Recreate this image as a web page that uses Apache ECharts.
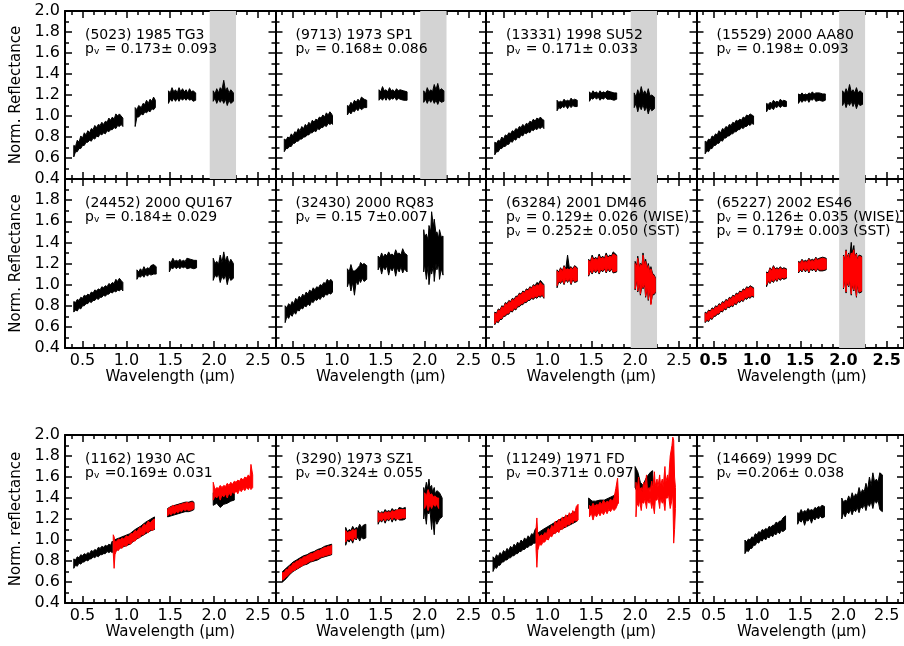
<!DOCTYPE html>
<html><head><meta charset="utf-8">
<script src="https://cdn.jsdelivr.net/npm/echarts@6/dist/echarts.min.js"></script>
<style>html,body{margin:0;padding:0;background:#fff}#c{width:904px;height:646px}</style>
</head><body><div id="c"></div>
<script>
// ---------------- DATA ----------------
const xRange = [0.3, 2.7];
const yRange = [0.4, 2.0];
const xMajorTicks = [0.5, 1.0, 1.5, 2.0, 2.5];
const xMinorTicks = [0.375, 0.625, 0.75, 0.875, 1.125, 1.25, 1.375, 1.625, 1.75, 1.875, 2.125, 2.25, 2.375, 2.625];
const grayBand = [1.95, 2.25];
const xTitle = 'Wavelength (\u00b5m)';
const yTitles = ['Norm. Reflectance', 'Norm. Reflectance', 'Norm. reflectance'];

const panelNames = ['(5023) 1985 TG3', '(9713) 1973 SP1', '(13331) 1998 SU52', '(15529) 2000 AA80',
  '(24452) 2000 QU167', '(32430) 2000 RQ83', '(63284) 2001 DM46', '(65227) 2002 ES46',
  '(1162) 1930 AC', '(3290) 1973 SZ1', '(11249) 1971 FD', '(14669) 1999 DC'];
const panelAlbedos = [
  ['p{v|v} = 0.173\u00b1 0.093'], ['p{v|v} = 0.168\u00b1 0.086'], ['p{v|v} = 0.171\u00b1 0.033'], ['p{v|v} = 0.198\u00b1 0.093'],
  ['p{v|v} = 0.184\u00b1 0.029'], ['p{v|v} = 0.15 7\u00b10.007'],
  ['p{v|v} = 0.129\u00b1 0.026 (WISE)', 'p{v|v} = 0.252\u00b1 0.050 (SST)'],
  ['p{v|v} = 0.126\u00b1 0.035 (WISE)', 'p{v|v} = 0.179\u00b1 0.003 (SST)'],
  ['p{v|v} =0.169\u00b1 0.031'], ['p{v|v} =0.324\u00b1 0.055'], ['p{v|v} =0.371\u00b1 0.097'], ['p{v|v} =0.206\u00b1 0.038']];
const bandPanels = [0, 1, 2, 3, 6, 7];

// spectra: segments of [wavelength, low, high]
const black5023 = [
  [[0.40,0.61,0.72],[0.42,0.66,0.71],[0.44,0.66,0.77],[0.46,0.69,0.75],[0.48,0.69,0.81],[0.50,0.72,0.79],[0.52,0.72,0.84],[0.54,0.75,0.82],[0.56,0.75,0.86],[0.58,0.77,0.84],[0.60,0.76,0.88],[0.62,0.79,0.87],[0.64,0.78,0.91],[0.66,0.81,0.89],[0.68,0.80,0.92],[0.70,0.83,0.91],[0.72,0.82,0.94],[0.74,0.84,0.92],[0.76,0.83,0.95],[0.78,0.86,0.94],[0.80,0.85,0.98],[0.82,0.87,0.96],[0.84,0.87,0.99],[0.86,0.89,0.97],[0.88,0.88,1.02],[0.90,0.91,1.00],[0.92,0.90,1.02],[0.94,0.92,1.00],[0.96,0.90,0.98]],
  [[1.10,0.90,1.08],[1.12,0.99,1.06],[1.14,0.99,1.10],[1.17,1.02,1.08],[1.19,1.01,1.12],[1.21,1.04,1.11],[1.23,1.03,1.15],[1.25,1.05,1.12],[1.27,1.04,1.16],[1.29,1.07,1.14],[1.31,1.06,1.18],[1.33,1.08,1.15]],
  [[1.48,1.12,1.24],[1.50,1.16,1.22],[1.52,1.14,1.27],[1.54,1.17,1.23],[1.56,1.14,1.25],[1.58,1.17,1.22],[1.60,1.14,1.27],[1.62,1.17,1.23],[1.64,1.15,1.26],[1.66,1.17,1.23],[1.68,1.15,1.25],[1.70,1.17,1.22],[1.72,1.15,1.26],[1.74,1.16,1.23],[1.76,1.14,1.24],[1.79,1.15,1.22]],
  [[1.99,1.14,1.24],[2.01,1.17,1.21],[2.03,1.12,1.26],[2.05,1.16,1.22],[2.07,1.13,1.27],[2.09,1.16,1.25],[2.11,1.12,1.34],[2.13,1.16,1.24],[2.15,1.10,1.27],[2.17,1.15,1.22],[2.19,1.12,1.25],[2.22,1.14,1.22]]];
const black9713 = [
  [[0.40,0.66,0.78],[0.42,0.69,0.77],[0.44,0.69,0.80],[0.46,0.71,0.79],[0.48,0.71,0.83],[0.50,0.74,0.81],[0.52,0.74,0.85],[0.54,0.76,0.84],[0.56,0.76,0.88],[0.58,0.78,0.86],[0.60,0.78,0.90],[0.62,0.80,0.88],[0.64,0.80,0.92],[0.66,0.82,0.90],[0.68,0.82,0.94],[0.70,0.84,0.92],[0.72,0.84,0.96],[0.74,0.86,0.94],[0.76,0.85,0.97],[0.78,0.88,0.96],[0.80,0.87,0.99],[0.82,0.89,0.98],[0.84,0.89,1.01],[0.86,0.91,0.99],[0.88,0.90,1.03],[0.90,0.93,1.01],[0.92,0.92,1.04],[0.94,0.93,1.02],[0.95,0.92,1.00]],
  [[1.12,1.01,1.10],[1.14,1.04,1.09],[1.16,1.02,1.13],[1.18,1.05,1.11],[1.20,1.04,1.15],[1.22,1.07,1.13],[1.24,1.05,1.16],[1.26,1.08,1.14],[1.28,1.06,1.18],[1.31,1.08,1.16],[1.34,1.08,1.15]],
  [[1.48,1.15,1.25],[1.50,1.17,1.23],[1.52,1.15,1.28],[1.54,1.18,1.24],[1.56,1.15,1.25],[1.58,1.18,1.23],[1.60,1.15,1.27],[1.62,1.17,1.24],[1.64,1.16,1.25],[1.66,1.18,1.23],[1.68,1.15,1.26],[1.70,1.17,1.24],[1.72,1.16,1.25],[1.76,1.15,1.24],[1.80,1.15,1.23]],
  [[1.99,1.13,1.24],[2.01,1.16,1.21],[2.03,1.12,1.27],[2.05,1.16,1.23],[2.07,1.13,1.25],[2.09,1.16,1.23],[2.11,1.12,1.30],[2.13,1.15,1.25],[2.15,1.11,1.31],[2.17,1.15,1.24],[2.19,1.13,1.26],[2.22,1.14,1.24]]];
const black13331 = [
  [[0.40,0.63,0.75],[0.42,0.66,0.74],[0.44,0.66,0.77],[0.46,0.69,0.76],[0.48,0.69,0.80],[0.50,0.71,0.78],[0.52,0.71,0.82],[0.54,0.73,0.81],[0.56,0.73,0.84],[0.58,0.76,0.83],[0.60,0.75,0.86],[0.62,0.78,0.85],[0.64,0.77,0.88],[0.66,0.80,0.87],[0.68,0.79,0.90],[0.70,0.82,0.89],[0.72,0.81,0.92],[0.74,0.84,0.90],[0.76,0.83,0.93],[0.78,0.85,0.92],[0.80,0.84,0.95],[0.82,0.87,0.94],[0.84,0.86,0.97],[0.86,0.88,0.95],[0.88,0.87,0.98],[0.90,0.89,0.97],[0.92,0.88,0.99],[0.94,0.90,0.97],[0.96,0.88,0.96]],
  [[1.11,1.05,1.15],[1.13,1.08,1.13],[1.15,1.07,1.14],[1.17,1.09,1.13],[1.19,1.08,1.16],[1.21,1.10,1.14],[1.23,1.07,1.15],[1.25,1.10,1.14],[1.27,1.08,1.17],[1.29,1.10,1.15],[1.31,1.09,1.16],[1.34,1.09,1.15]],
  [[1.48,1.14,1.23],[1.50,1.17,1.21],[1.52,1.16,1.24],[1.54,1.18,1.22],[1.56,1.16,1.23],[1.58,1.18,1.21],[1.60,1.15,1.24],[1.62,1.17,1.22],[1.64,1.16,1.23],[1.66,1.18,1.22],[1.68,1.16,1.24],[1.72,1.16,1.23],[1.76,1.15,1.22],[1.79,1.16,1.22]],
  [[1.99,1.08,1.22],[2.01,1.12,1.18],[2.03,1.04,1.25],[2.05,1.10,1.20],[2.07,1.06,1.28],[2.09,1.11,1.21],[2.11,1.05,1.24],[2.13,1.09,1.20],[2.15,1.02,1.26],[2.17,1.08,1.19],[2.19,1.05,1.20],[2.22,1.07,1.18]]];
const black15529 = [
  [[0.40,0.64,0.76],[0.42,0.67,0.75],[0.44,0.66,0.78],[0.46,0.69,0.77],[0.48,0.69,0.81],[0.50,0.72,0.80],[0.52,0.72,0.83],[0.54,0.74,0.82],[0.56,0.74,0.86],[0.58,0.77,0.84],[0.60,0.76,0.88],[0.62,0.79,0.87],[0.64,0.79,0.90],[0.66,0.81,0.89],[0.68,0.81,0.92],[0.70,0.83,0.91],[0.72,0.83,0.94],[0.74,0.85,0.93],[0.76,0.85,0.96],[0.78,0.87,0.95],[0.80,0.87,0.97],[0.82,0.89,0.96],[0.84,0.88,0.99],[0.86,0.90,0.98],[0.88,0.90,1.01],[0.90,0.92,1.00],[0.92,0.91,1.02],[0.94,0.93,1.01],[0.96,0.92,1.00]],
  [[1.11,1.04,1.12],[1.13,1.07,1.11],[1.15,1.06,1.13],[1.17,1.08,1.12],[1.19,1.06,1.15],[1.21,1.09,1.13],[1.23,1.08,1.14],[1.25,1.10,1.13],[1.27,1.08,1.16],[1.29,1.10,1.14],[1.31,1.09,1.15],[1.34,1.09,1.14]],
  [[1.48,1.12,1.21],[1.50,1.15,1.20],[1.52,1.13,1.22],[1.54,1.15,1.20],[1.56,1.14,1.21],[1.58,1.16,1.20],[1.60,1.13,1.22],[1.62,1.16,1.21],[1.64,1.15,1.23],[1.66,1.17,1.21],[1.68,1.14,1.22],[1.72,1.15,1.22],[1.76,1.14,1.21],[1.79,1.15,1.21]],
  [[1.99,1.10,1.24],[2.01,1.14,1.21],[2.03,1.08,1.26],[2.05,1.13,1.22],[2.07,1.10,1.30],[2.09,1.14,1.23],[2.11,1.09,1.25],[2.13,1.13,1.22],[2.15,1.07,1.27],[2.17,1.12,1.22],[2.19,1.10,1.24],[2.22,1.11,1.22]]];
const black24452 = [
  [[0.40,0.74,0.84],[0.42,0.76,0.83],[0.44,0.75,0.86],[0.46,0.78,0.85],[0.48,0.77,0.88],[0.50,0.80,0.87],[0.52,0.80,0.90],[0.54,0.82,0.89],[0.56,0.82,0.91],[0.58,0.84,0.90],[0.60,0.83,0.93],[0.62,0.85,0.92],[0.64,0.85,0.95],[0.66,0.87,0.94],[0.68,0.86,0.96],[0.70,0.88,0.95],[0.72,0.88,0.98],[0.74,0.90,0.97],[0.76,0.89,0.99],[0.78,0.91,0.98],[0.80,0.91,1.01],[0.82,0.93,1.00],[0.84,0.92,1.02],[0.86,0.94,1.01],[0.88,0.93,1.05],[0.90,0.95,1.03],[0.92,0.94,1.06],[0.94,0.96,1.04],[0.96,0.94,1.02]],
  [[1.12,1.05,1.14],[1.14,1.08,1.12],[1.16,1.07,1.15],[1.18,1.09,1.13],[1.20,1.07,1.17],[1.22,1.10,1.14],[1.24,1.08,1.16],[1.26,1.10,1.15],[1.28,1.09,1.18],[1.31,1.10,1.19],[1.34,1.10,1.17]],
  [[1.49,1.12,1.22],[1.51,1.16,1.21],[1.53,1.15,1.25],[1.55,1.17,1.22],[1.57,1.15,1.23],[1.59,1.17,1.22],[1.61,1.15,1.24],[1.63,1.17,1.22],[1.65,1.16,1.23],[1.67,1.17,1.22],[1.69,1.15,1.25],[1.73,1.16,1.24],[1.77,1.15,1.23],[1.80,1.16,1.23]],
  [[1.99,1.04,1.25],[2.01,1.09,1.20],[2.03,1.07,1.22],[2.05,1.10,1.19],[2.07,1.02,1.28],[2.09,1.08,1.21],[2.11,1.05,1.31],[2.13,1.09,1.22],[2.15,1.00,1.27],[2.17,1.08,1.20],[2.19,1.04,1.24],[2.22,1.06,1.20]]];
const black32430 = [
  [[0.41,0.64,0.80],[0.43,0.70,0.78],[0.45,0.68,0.82],[0.47,0.72,0.80],[0.49,0.70,0.84],[0.51,0.74,0.82],[0.53,0.72,0.87],[0.55,0.76,0.85],[0.57,0.75,0.89],[0.59,0.78,0.87],[0.61,0.77,0.91],[0.63,0.80,0.89],[0.65,0.79,0.93],[0.67,0.82,0.91],[0.69,0.80,0.95],[0.71,0.84,0.93],[0.73,0.83,0.97],[0.75,0.86,0.95],[0.77,0.85,0.98],[0.79,0.87,0.97],[0.81,0.86,1.00],[0.83,0.89,0.99],[0.85,0.88,1.02],[0.87,0.91,1.01],[0.89,0.90,1.05],[0.91,0.92,1.03],[0.93,0.91,1.05],[0.95,0.93,1.03]],
  [[1.12,0.98,1.15],[1.14,1.04,1.12],[1.16,0.94,1.19],[1.18,1.02,1.13],[1.20,0.90,1.13],[1.22,1.03,1.14],[1.24,1.00,1.16],[1.26,1.05,1.18],[1.27,1.02,1.21],[1.29,1.06,1.19],[1.31,1.03,1.20],[1.34,1.05,1.18]],
  [[1.47,1.14,1.27],[1.49,1.18,1.25],[1.51,1.10,1.30],[1.53,1.17,1.26],[1.55,1.14,1.29],[1.57,1.18,1.27],[1.59,1.09,1.31],[1.61,1.16,1.28],[1.63,1.13,1.29],[1.65,1.17,1.27],[1.67,1.08,1.33],[1.69,1.16,1.29],[1.71,1.12,1.30],[1.73,1.17,1.28],[1.75,1.11,1.34],[1.77,1.15,1.30],[1.80,1.12,1.28]],
  [[1.99,1.12,1.52],[2.00,1.20,1.45],[2.02,1.05,1.48],[2.04,1.18,1.42],[2.05,1.00,1.56],[2.07,1.16,1.50],[2.08,1.10,1.69],[2.10,1.18,1.55],[2.11,1.03,1.62],[2.13,1.20,1.48],[2.14,1.14,1.50],[2.16,1.19,1.44],[2.17,1.05,1.52],[2.19,1.15,1.45],[2.21,1.09,1.46]]];
const black63284 = [
  [[0.40,0.62,0.74],[0.42,0.65,0.73],[0.44,0.64,0.77],[0.46,0.67,0.76],[0.48,0.67,0.80],[0.50,0.70,0.79],[0.52,0.70,0.83],[0.54,0.72,0.82],[0.56,0.72,0.85],[0.58,0.75,0.84],[0.60,0.74,0.87],[0.62,0.77,0.86],[0.64,0.76,0.89],[0.66,0.79,0.89],[0.68,0.79,0.92],[0.70,0.81,0.91],[0.72,0.81,0.94],[0.74,0.83,0.93],[0.76,0.83,0.96],[0.78,0.85,0.95],[0.80,0.85,0.98],[0.82,0.87,0.97],[0.84,0.86,1.00],[0.86,0.88,0.99],[0.88,0.87,1.02],[0.90,0.89,1.01],[0.92,0.88,1.04],[0.94,0.90,1.02],[0.96,0.87,1.00]],
  [[1.11,0.97,1.14],[1.13,1.03,1.12],[1.15,1.01,1.16],[1.17,1.04,1.13],[1.19,1.00,1.18],[1.21,1.05,1.15],[1.23,1.02,1.28],[1.25,1.05,1.16],[1.27,1.00,1.17],[1.29,1.05,1.15],[1.31,1.02,1.18],[1.34,1.03,1.16]],
  [[1.47,1.08,1.24],[1.49,1.13,1.22],[1.51,1.10,1.28],[1.53,1.14,1.24],[1.55,1.11,1.26],[1.57,1.14,1.24],[1.59,1.10,1.29],[1.61,1.14,1.25],[1.63,1.12,1.27],[1.65,1.15,1.25],[1.67,1.11,1.30],[1.69,1.15,1.26],[1.71,1.12,1.28],[1.73,1.15,1.27],[1.75,1.11,1.31],[1.79,1.12,1.28]],
  [[2.00,0.95,1.22],[2.02,1.05,1.18],[2.03,0.93,1.27],[2.05,1.02,1.16],[2.06,0.90,1.20],[2.08,1.00,1.19],[2.09,0.96,1.30],[2.11,1.00,1.18],[2.12,0.88,1.24],[2.14,0.98,1.15],[2.15,0.85,1.20],[2.17,0.95,1.12],[2.18,0.82,1.17],[2.20,0.92,1.10],[2.21,0.90,1.10],[2.23,0.92,1.07]]];
const red63284 = [
  [[0.40,0.63,0.73],[0.42,0.66,0.72],[0.44,0.65,0.76],[0.46,0.68,0.75],[0.48,0.68,0.79],[0.50,0.71,0.78],[0.52,0.71,0.82],[0.54,0.73,0.81],[0.56,0.73,0.84],[0.58,0.76,0.83],[0.60,0.75,0.86],[0.62,0.78,0.85],[0.64,0.77,0.88],[0.66,0.80,0.88],[0.68,0.80,0.91],[0.70,0.82,0.90],[0.72,0.82,0.93],[0.74,0.84,0.92],[0.76,0.84,0.95],[0.78,0.86,0.94],[0.80,0.86,0.97],[0.82,0.88,0.96],[0.84,0.87,0.99],[0.86,0.89,0.98],[0.88,0.88,1.00],[0.90,0.90,0.99],[0.92,0.89,1.02],[0.94,0.91,1.00],[0.96,0.88,0.99]],
  [[1.11,0.99,1.13],[1.13,1.04,1.11],[1.15,1.02,1.15],[1.17,1.05,1.12],[1.19,1.01,1.17],[1.21,1.06,1.14],[1.23,1.03,1.15],[1.25,1.06,1.14],[1.27,1.01,1.16],[1.29,1.06,1.14],[1.31,1.03,1.17],[1.34,1.04,1.15]],
  [[1.47,1.09,1.23],[1.49,1.14,1.21],[1.51,1.11,1.26],[1.53,1.15,1.23],[1.55,1.12,1.25],[1.57,1.15,1.23],[1.59,1.11,1.27],[1.61,1.15,1.24],[1.63,1.13,1.26],[1.65,1.16,1.24],[1.67,1.12,1.28],[1.69,1.16,1.25],[1.71,1.13,1.27],[1.73,1.16,1.26],[1.75,1.12,1.29],[1.79,1.13,1.27]],
  [[2.00,0.96,1.20],[2.02,1.06,1.17],[2.03,0.94,1.25],[2.05,1.03,1.15],[2.06,0.91,1.19],[2.08,1.01,1.18],[2.09,0.97,1.28],[2.11,1.01,1.17],[2.12,0.89,1.22],[2.14,0.99,1.14],[2.15,0.86,1.18],[2.17,0.96,1.11],[2.18,0.81,1.15],[2.20,0.93,1.09],[2.21,0.91,1.09],[2.23,0.93,1.06]]];
const black65227 = [
  [[0.40,0.64,0.74],[0.42,0.66,0.73],[0.44,0.65,0.76],[0.46,0.68,0.75],[0.48,0.67,0.78],[0.50,0.70,0.77],[0.52,0.70,0.80],[0.54,0.72,0.79],[0.56,0.72,0.82],[0.58,0.75,0.81],[0.60,0.74,0.84],[0.62,0.77,0.83],[0.64,0.76,0.86],[0.66,0.79,0.85],[0.68,0.78,0.88],[0.70,0.80,0.87],[0.72,0.79,0.90],[0.74,0.82,0.89],[0.76,0.81,0.92],[0.78,0.84,0.91],[0.80,0.83,0.94],[0.82,0.85,0.93],[0.84,0.84,0.96],[0.86,0.87,0.95],[0.88,0.86,0.98],[0.90,0.88,0.97],[0.92,0.87,0.99],[0.94,0.89,0.98],[0.96,0.88,0.97]],
  [[1.11,0.98,1.12],[1.13,1.03,1.11],[1.15,1.01,1.16],[1.17,1.04,1.14],[1.19,1.02,1.18],[1.21,1.05,1.15],[1.23,1.03,1.16],[1.25,1.06,1.15],[1.27,1.04,1.17],[1.29,1.06,1.15],[1.31,1.05,1.16],[1.34,1.06,1.15]],
  [[1.48,1.11,1.22],[1.50,1.14,1.21],[1.52,1.12,1.24],[1.54,1.15,1.22],[1.56,1.12,1.23],[1.58,1.15,1.22],[1.60,1.11,1.25],[1.62,1.15,1.23],[1.64,1.13,1.24],[1.66,1.15,1.23],[1.68,1.12,1.26],[1.70,1.15,1.24],[1.72,1.13,1.25],[1.76,1.13,1.26],[1.80,1.14,1.25]],
  [[2.00,0.96,1.28],[2.01,1.05,1.22],[2.03,0.92,1.33],[2.04,1.02,1.25],[2.06,0.98,1.30],[2.07,1.05,1.24],[2.09,0.90,1.40],[2.10,1.00,1.30],[2.12,0.94,1.37],[2.13,1.02,1.26],[2.15,0.88,1.30],[2.16,1.00,1.24],[2.18,0.92,1.28],[2.21,0.93,1.27]]];
const red65227 = [
  [[0.40,0.65,0.73],[0.42,0.67,0.72],[0.44,0.66,0.75],[0.46,0.69,0.74],[0.48,0.68,0.77],[0.50,0.71,0.76],[0.52,0.71,0.79],[0.54,0.73,0.78],[0.56,0.73,0.81],[0.58,0.76,0.80],[0.60,0.75,0.83],[0.62,0.78,0.82],[0.64,0.77,0.85],[0.66,0.80,0.84],[0.68,0.79,0.87],[0.70,0.81,0.86],[0.72,0.80,0.89],[0.74,0.83,0.88],[0.76,0.82,0.91],[0.78,0.85,0.90],[0.80,0.84,0.93],[0.82,0.86,0.92],[0.84,0.85,0.95],[0.86,0.88,0.94],[0.88,0.87,0.97],[0.90,0.89,0.96],[0.92,0.88,0.98],[0.94,0.90,0.97],[0.96,0.89,0.96]],
  [[1.11,1.00,1.11],[1.13,1.04,1.10],[1.15,1.02,1.15],[1.17,1.05,1.13],[1.19,1.03,1.17],[1.21,1.06,1.14],[1.23,1.04,1.15],[1.25,1.07,1.14],[1.27,1.05,1.16],[1.29,1.07,1.14],[1.31,1.06,1.15],[1.34,1.07,1.14]],
  [[1.48,1.12,1.21],[1.50,1.15,1.20],[1.52,1.13,1.23],[1.54,1.16,1.21],[1.56,1.13,1.22],[1.58,1.16,1.21],[1.60,1.12,1.24],[1.62,1.16,1.22],[1.64,1.14,1.23],[1.66,1.16,1.22],[1.68,1.13,1.25],[1.70,1.16,1.23],[1.72,1.14,1.24],[1.76,1.14,1.25],[1.80,1.15,1.24]],
  [[2.00,0.97,1.27],[2.01,1.06,1.21],[2.03,0.93,1.32],[2.04,1.03,1.24],[2.06,0.99,1.29],[2.07,1.06,1.23],[2.09,0.91,1.30],[2.10,1.01,1.28],[2.12,0.95,1.33],[2.13,1.03,1.25],[2.15,0.89,1.29],[2.16,1.01,1.23],[2.18,0.93,1.27],[2.21,0.94,1.26]]];
const black1162 = [
  [[0.40,0.73,0.82],[0.42,0.76,0.81],[0.44,0.75,0.84],[0.46,0.78,0.83],[0.48,0.77,0.86],[0.50,0.79,0.85],[0.52,0.79,0.87],[0.54,0.81,0.86],[0.56,0.80,0.88],[0.58,0.82,0.87],[0.60,0.82,0.90],[0.62,0.84,0.89],[0.64,0.83,0.91],[0.66,0.85,0.90],[0.68,0.84,0.93],[0.70,0.86,0.92],[0.72,0.86,0.94],[0.74,0.87,0.93],[0.76,0.87,0.95],[0.78,0.89,0.94],[0.80,0.88,0.96],[0.82,0.89,0.95],[0.84,0.88,0.99]],
  [[0.86,0.88,1.00],[0.92,0.92,1.02],[0.98,0.94,1.04],[1.04,0.96,1.06],[1.10,1.00,1.10],[1.16,1.03,1.13],[1.22,1.06,1.17],[1.28,1.09,1.20],[1.32,1.10,1.22]],
  [[1.47,1.22,1.30],[1.51,1.23,1.32],[1.55,1.24,1.33],[1.59,1.25,1.34],[1.63,1.26,1.35],[1.67,1.27,1.36],[1.71,1.27,1.36],[1.75,1.28,1.37],[1.77,1.29,1.36]],
  [[1.99,1.33,1.45],[2.03,1.35,1.46],[2.07,1.31,1.44],[2.11,1.34,1.47],[2.15,1.35,1.46],[2.19,1.37,1.49],[2.23,1.38,1.50]]];
const red1162 = [
  [[0.85,0.88,1.05],[0.86,0.73,1.03],[0.87,0.86,0.98],[0.89,0.91,0.99],[0.91,0.90,1.01],[0.93,0.93,1.00],[0.95,0.92,1.02],[0.97,0.95,1.01],[1.00,0.94,1.04],[1.02,0.97,1.03],[1.05,0.96,1.06],[1.07,0.99,1.06],[1.10,0.99,1.09],[1.12,1.02,1.08],[1.15,1.02,1.12],[1.17,1.05,1.11],[1.20,1.05,1.15],[1.22,1.08,1.14],[1.25,1.07,1.18],[1.27,1.10,1.16],[1.30,1.09,1.19],[1.32,1.11,1.20]],
  [[1.47,1.23,1.29],[1.49,1.25,1.31],[1.51,1.24,1.31],[1.53,1.26,1.33],[1.55,1.25,1.32],[1.57,1.27,1.33],[1.59,1.26,1.33],[1.61,1.28,1.34],[1.63,1.27,1.34],[1.65,1.29,1.35],[1.67,1.28,1.35],[1.69,1.29,1.36],[1.71,1.28,1.35],[1.75,1.29,1.36],[1.77,1.30,1.35]],
  [[1.99,1.38,1.55],[2.01,1.42,1.48],[2.03,1.40,1.50],[2.05,1.43,1.49],[2.07,1.38,1.52],[2.09,1.43,1.50],[2.11,1.41,1.52],[2.13,1.44,1.51],[2.15,1.40,1.54],[2.17,1.45,1.52],[2.19,1.42,1.55],[2.21,1.46,1.53],[2.23,1.44,1.56],[2.25,1.47,1.55],[2.27,1.44,1.57],[2.29,1.48,1.56],[2.31,1.46,1.59],[2.33,1.49,1.57],[2.35,1.47,1.60],[2.37,1.50,1.59],[2.39,1.48,1.62],[2.41,1.51,1.60],[2.42,1.48,1.72],[2.44,1.50,1.62]]];
const black3290 = [
  [[0.38,0.60,0.70],[0.42,0.63,0.73],[0.46,0.67,0.76],[0.50,0.70,0.79],[0.54,0.72,0.81],[0.58,0.74,0.83],[0.62,0.76,0.85],[0.66,0.77,0.86],[0.70,0.79,0.88],[0.74,0.80,0.89],[0.78,0.81,0.91],[0.82,0.83,0.92],[0.86,0.84,0.94],[0.90,0.85,0.95],[0.94,0.86,0.96]],
  [[1.10,0.95,1.12],[1.12,1.00,1.08],[1.14,0.98,1.10],[1.16,1.01,1.09],[1.18,0.97,1.13],[1.20,1.02,1.10],[1.22,1.00,1.12],[1.24,1.03,1.11],[1.26,0.99,1.15],[1.28,1.03,1.12],[1.30,1.01,1.14],[1.33,1.02,1.15]],
  [[1.47,1.15,1.28],[1.49,1.19,1.25],[1.51,1.17,1.27],[1.53,1.20,1.26],[1.55,1.16,1.29],[1.57,1.20,1.27],[1.59,1.18,1.28],[1.61,1.21,1.27],[1.63,1.17,1.30],[1.65,1.21,1.28],[1.67,1.18,1.29],[1.69,1.22,1.28],[1.71,1.19,1.31],[1.75,1.19,1.30],[1.78,1.20,1.31]],
  [[1.99,1.20,1.50],[2.00,1.28,1.45],[2.02,1.15,1.55],[2.03,1.26,1.48],[2.05,1.25,1.58],[2.06,1.30,1.50],[2.08,1.10,1.52],[2.09,1.22,1.46],[2.11,1.05,1.50],[2.12,1.20,1.44],[2.14,1.15,1.47],[2.17,1.20,1.45],[2.20,1.22,1.40]]];
const red3290 = [
  [[0.38,0.62,0.69],[0.40,0.63,0.69],[0.42,0.65,0.72],[0.44,0.66,0.72],[0.46,0.68,0.75],[0.48,0.69,0.75],[0.50,0.71,0.78],[0.52,0.71,0.78],[0.54,0.73,0.80],[0.56,0.73,0.80],[0.58,0.75,0.82],[0.60,0.75,0.82],[0.62,0.77,0.84],[0.64,0.77,0.84],[0.66,0.78,0.85],[0.68,0.79,0.86],[0.70,0.80,0.87],[0.72,0.80,0.87],[0.74,0.81,0.88],[0.76,0.82,0.89],[0.78,0.82,0.90],[0.80,0.83,0.90],[0.82,0.84,0.91],[0.84,0.84,0.92],[0.86,0.85,0.93],[0.88,0.85,0.93],[0.90,0.86,0.94],[0.92,0.86,0.94],[0.94,0.87,0.95]],
  [[1.10,0.98,1.09],[1.12,1.01,1.07],[1.14,1.00,1.08],[1.16,1.02,1.08],[1.18,0.99,1.10],[1.20,1.03,1.09],[1.22,1.01,1.10]],
  [[1.47,1.17,1.26],[1.49,1.20,1.25],[1.51,1.18,1.26],[1.53,1.21,1.25],[1.55,1.18,1.27],[1.57,1.21,1.26],[1.59,1.19,1.27],[1.61,1.22,1.26],[1.63,1.19,1.28],[1.65,1.22,1.27],[1.67,1.20,1.28],[1.71,1.20,1.29],[1.75,1.21,1.29],[1.78,1.21,1.29]],
  [[2.00,1.30,1.45],[2.02,1.35,1.42],[2.04,1.28,1.48],[2.06,1.34,1.43],[2.08,1.30,1.44],[2.10,1.34,1.41],[2.12,1.32,1.42],[2.14,1.34,1.40],[2.16,1.30,1.40]]];
const black11249 = [
  [[0.38,0.70,0.84],[0.40,0.74,0.82],[0.42,0.73,0.86],[0.44,0.76,0.84],[0.46,0.76,0.88],[0.48,0.79,0.86],[0.50,0.79,0.90],[0.52,0.81,0.88],[0.54,0.81,0.92],[0.56,0.83,0.90],[0.58,0.83,0.94],[0.60,0.85,0.92],[0.62,0.85,0.96],[0.64,0.87,0.94],[0.66,0.87,0.98],[0.68,0.89,0.96],[0.70,0.89,1.00],[0.72,0.91,0.98],[0.74,0.91,1.02],[0.76,0.93,1.00],[0.78,0.93,1.04],[0.80,0.95,1.02],[0.82,0.95,1.06],[0.84,0.97,1.05],[0.86,0.97,1.10],[0.88,0.98,1.12]],
  [[0.88,0.95,1.06],[0.95,1.00,1.10],[1.05,1.05,1.15],[1.15,1.10,1.20],[1.25,1.14,1.24],[1.34,1.18,1.28]],
  [[1.47,1.30,1.40],[1.51,1.28,1.37],[1.55,1.29,1.37],[1.60,1.30,1.38],[1.65,1.31,1.38],[1.70,1.33,1.40],[1.75,1.35,1.42],[1.78,1.36,1.44]],
  [[2.00,1.50,1.70],[2.03,1.45,1.65],[2.06,1.42,1.55],[2.09,1.40,1.52],[2.12,1.45,1.58],[2.15,1.48,1.62],[2.18,1.50,1.65],[2.20,1.52,1.66]]];
const red11249 = [
  [[0.87,0.92,1.10],[0.88,0.74,1.21],[0.89,0.90,1.06],[0.91,0.96,1.03],[0.93,0.95,1.05],[0.95,0.98,1.04],[0.97,0.98,1.07],[0.99,1.01,1.06],[1.01,1.00,1.11],[1.03,1.04,1.09],[1.05,1.03,1.14],[1.07,1.07,1.12],[1.09,1.06,1.18],[1.11,1.09,1.15],[1.13,1.07,1.20],[1.15,1.11,1.17],[1.17,1.10,1.22],[1.19,1.13,1.19],[1.21,1.12,1.24],[1.23,1.15,1.21],[1.25,1.14,1.26],[1.27,1.17,1.23],[1.29,1.16,1.28],[1.31,1.19,1.25],[1.33,1.18,1.32],[1.35,1.19,1.34]],
  [[1.48,1.22,1.33],[1.50,1.26,1.31],[1.52,1.19,1.35],[1.54,1.25,1.32],[1.56,1.22,1.34],[1.58,1.26,1.33],[1.60,1.23,1.36],[1.62,1.27,1.34],[1.64,1.24,1.38],[1.66,1.28,1.35],[1.68,1.25,1.37],[1.70,1.29,1.36],[1.72,1.27,1.39],[1.74,1.30,1.37],[1.76,1.28,1.40],[1.78,1.30,1.49],[1.80,1.34,1.59],[1.81,1.35,1.42]],
  [[2.01,1.22,1.55],[2.02,1.35,1.45],[2.04,1.32,1.60],[2.05,1.38,1.48],[2.07,1.28,1.50],[2.08,1.36,1.46],[2.10,1.35,1.55],[2.11,1.40,1.50],[2.13,1.30,1.62],[2.14,1.38,1.48],[2.16,1.35,1.50],[2.17,1.40,1.46],[2.19,1.30,1.56],[2.20,1.36,1.48],[2.22,1.25,1.65],[2.23,1.38,1.52],[2.25,1.38,1.58],[2.26,1.42,1.50],[2.28,1.30,1.62],[2.29,1.40,1.52],[2.31,1.35,1.58],[2.32,1.40,1.50],[2.34,1.28,1.70],[2.35,1.40,1.55],[2.37,1.40,1.62],[2.38,1.44,1.55],[2.40,1.30,1.80],[2.42,1.38,1.90],[2.43,1.45,1.98],[2.44,0.97,1.95],[2.45,1.10,1.60],[2.46,1.30,1.50]]];
const black14669 = [
  [[0.86,0.87,1.00],[0.88,0.90,0.98],[0.90,0.89,1.01],[0.92,0.92,1.00],[0.94,0.92,1.03],[0.96,0.95,1.02],[0.98,0.95,1.06],[1.00,0.98,1.05],[1.02,0.97,1.08],[1.04,1.00,1.07],[1.06,0.99,1.10],[1.08,1.02,1.09],[1.10,1.00,1.11],[1.12,1.03,1.10],[1.14,1.02,1.13],[1.16,1.05,1.12],[1.18,1.03,1.14],[1.20,1.06,1.14],[1.22,1.05,1.17],[1.24,1.08,1.16],[1.26,1.06,1.18],[1.28,1.09,1.18],[1.30,1.08,1.21],[1.33,1.10,1.23]],
  [[1.47,1.15,1.26],[1.49,1.19,1.25],[1.51,1.17,1.29],[1.53,1.20,1.26],[1.55,1.14,1.28],[1.57,1.19,1.27],[1.59,1.18,1.30],[1.61,1.21,1.28],[1.63,1.16,1.29],[1.65,1.21,1.28],[1.67,1.19,1.31],[1.69,1.22,1.30],[1.71,1.20,1.32],[1.73,1.23,1.31],[1.75,1.21,1.33],[1.78,1.22,1.32]],
  [[1.98,1.20,1.40],[2.00,1.26,1.36],[2.02,1.22,1.38],[2.04,1.27,1.37],[2.06,1.25,1.42],[2.08,1.29,1.38],[2.10,1.24,1.45],[2.12,1.29,1.40],[2.14,1.27,1.44],[2.16,1.31,1.42],[2.18,1.26,1.50],[2.20,1.32,1.44],[2.22,1.30,1.48],[2.24,1.34,1.46],[2.26,1.28,1.54],[2.28,1.35,1.48],[2.30,1.32,1.60],[2.32,1.37,1.52],[2.34,1.30,1.64],[2.36,1.38,1.55],[2.38,1.35,1.58],[2.40,1.38,1.55],[2.42,1.29,1.64],[2.45,1.27,1.62]]];

const blackSpectra = [black5023, black9713, black13331, black15529, black24452, black32430, black63284, black65227, black1162, black3290, black11249, black14669];
const redSpectra = [null, null, null, null, null, null, red63284, red65227, red1162, red3290, red11249, null];

// ---------------- LAYOUT ----------------
const FONT = 'DejaVu Sans';
const colLeft = [65, 275.5, 486, 696.5];
const rowTop = [11, 179, 435];
const rowH = [168, 169, 168];
const panelW = 210.5;
const AX = {color: '#000', width: 2};
const TK = {color: '#000', width: 1.5};

const grids = [], xAxes = [], yAxes = [], series = [], graphics = [];

for (let i = 0; i < 12; i++) {
  const row = Math.floor(i / 4), col = i % 4;
  const left = colLeft[col], top = rowTop[row], h = rowH[row];
  grids.push({left: left, top: top, width: panelW, height: h});
  const showX = row > 0;
  const bold = (i === 7);
  ['bottom', 'top'].forEach(pos => {
    xAxes.push({gridIndex: i, type: 'value', min: xRange[0], max: xRange[1], position: pos,
      axisLine: {show: true, onZero: false, lineStyle: AX},
      axisTick: {show: true, inside: true, length: 7, customValues: xMajorTicks, lineStyle: TK},
      axisLabel: {show: showX && pos === 'bottom', customValues: xMajorTicks, margin: 5,
        formatter: v => v.toFixed(1), fontSize: 16, fontFamily: FONT, color: '#000', fontWeight: bold ? 'bold' : 'normal'},
      splitLine: {show: false}});
    xAxes.push({gridIndex: i, type: 'value', min: xRange[0], max: xRange[1], position: pos,
      axisLine: {show: false, onZero: false},
      axisTick: {show: true, inside: true, length: 4, customValues: xMinorTicks, lineStyle: TK},
      axisLabel: {show: false}, splitLine: {show: false}});
  });
  ['left', 'right'].forEach(pos => {
    yAxes.push({gridIndex: i, type: 'value', min: yRange[0], max: yRange[1], interval: 0.2, position: pos,
      axisLine: {show: true, onZero: false, lineStyle: AX},
      axisTick: {show: true, inside: true, length: 7, lineStyle: TK},
      minorTick: {show: true, splitNumber: 2, length: 4, lineStyle: TK},
      axisLabel: {show: col === 0 && pos === 'left', margin: 5, fontSize: 16, fontFamily: FONT, color: '#000',
        formatter: v => (row === 1 && v > 1.95) ? '' : v.toFixed(1)},
      splitLine: {show: false}});
  });
  const xi = i * 4, yi = i * 2;
  if (bandPanels.includes(i)) {
    series.push({type: 'custom', xAxisIndex: xi, yAxisIndex: yi, z: 1, silent: true,
      data: [[grayBand[0], grayBand[1]]],
      renderItem: (params, api) => {
        const p1 = api.coord([api.value(0), yRange[1]]);
        const p2 = api.coord([api.value(1), yRange[0]]);
        return {type: 'rect', shape: {x: p1[0], y: p1[1], width: p2[0] - p1[0], height: p2[1] - p1[1]},
          style: {fill: '#d3d3d3'}};
      }});
  }
  const env = (segs, color, z) => ({type: 'custom', xAxisIndex: xi, yAxisIndex: yi, z: z, silent: true, clip: true,
    data: segs.map((s, k) => [s[0][0], s[0][1], k]),
    renderItem: (params, api) => {
      const s = segs[params.dataIndex];
      const pts = [];
      for (let j = 0; j < s.length; j++) pts.push(api.coord([s[j][0], s[j][2]]));
      for (let j = s.length - 1; j >= 0; j--) pts.push(api.coord([s[j][0], s[j][1]]));
      return {type: 'polygon', shape: {points: pts}, style: {fill: color, stroke: color, lineWidth: 1, lineJoin: 'miter'}};
    }});
  series.push(env(blackSpectra[i], '#000', 3));
  if (redSpectra[i]) series.push(env(redSpectra[i], '#ff0000', 4));

  // annotation text
  const lines = [panelNames[i]].concat(panelAlbedos[i]);
  lines.forEach((t, k) => {
    graphics.push({type: 'text', x: left + 20, y: top + 24 + k * 14, z: 100, silent: true,
      style: {text: t, fill: '#000', fontSize: 14, fontFamily: FONT, verticalAlign: 'middle', align: 'left',
        rich: {v: {fontSize: 9, fontFamily: FONT, fill: '#000', verticalAlign: 'bottom', lineHeight: 9, padding: [0, 1, 0, 0]}}}});
  });
  if (row > 0) {
    graphics.push({type: 'text', x: left + panelW / 2, y: rowTop[row] + h + 29, z: 100, silent: true,
      style: {text: xTitle, fill: '#000', fontSize: 15, fontFamily: FONT, align: 'center', verticalAlign: 'middle'}});
  }
}
for (let r = 0; r < 3; r++) {
  graphics.push({type: 'text', x: 16, y: rowTop[r] + rowH[r] / 2, rotation: Math.PI / 2, z: 100, silent: true,
    style: {text: yTitles[r], fill: '#000', fontSize: 15, fontFamily: FONT, align: 'center', verticalAlign: 'middle'}});
}

const chart = echarts.init(document.getElementById('c'), null, {renderer: 'canvas'});
chart.setOption({
  animation: false,
  backgroundColor: '#fff',
  grid: grids, xAxis: xAxes, yAxis: yAxes, series: series,
  graphic: {elements: graphics}
});
</script></body></html>
